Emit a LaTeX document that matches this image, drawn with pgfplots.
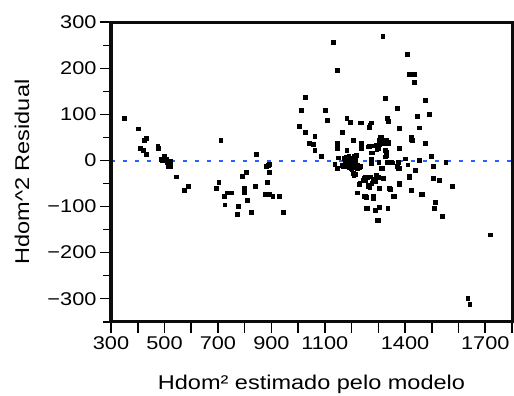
\documentclass[border=0pt]{standalone}
\usepackage{pgfplots}
\pgfplotsset{compat=1.18}
\usepackage{fontspec}
\setmainfont[FakeStretch=1.18]{Liberation Sans}
\definecolor{refblue}{RGB}{45,95,255}
\definecolor{frame}{RGB}{12,12,12}
\begin{document}
\begin{tikzpicture}
\path[use as bounding box] (-111bp,-74.3bp) rectangle (403bp,321.7bp);
\begin{axis}[
  at={(0,0)}, anchor=south west,
  scale only axis, width=401bp, height=299.4bp,
  xmin=300, xmax=1800, ymin=-350, ymax=300,
  axis lines=box,
  axis line style={line width=2.2bp, frame},
  tick style={line width=1.6bp, black},
  tick align=outside, tick pos=left,
  xtick={300,400,...,1800},
  xticklabels={300,,500,,700,,900,,1100,,,1400,,,1700,},
  ytick={-300,-200,...,300},
  yticklabels={\char"2212 300,\char"2212 200,\char"2212 100,0,100,200,300},
  minor ytick={-350,-250,...,250},
  major tick length=11bp, minor tick length=7.5bp,
  /pgf/number format/assume math mode=true,
  ticklabel style={font=\fontsize{18.5}{20}\selectfont},
  label style={font=\fontsize{20}{22}\selectfont},
  xlabel={Hdom² estimado pelo modelo},
  ylabel={Hdom\textasciicircum 2 Residual},
  ylabel style={at={(axis description cs:-0.222,0.5)}, anchor=center},
  xlabel style={at={(axis description cs:0.5,-0.208)}, anchor=center},
  clip=false,
]
\addplot[refblue, line width=2bp, dash pattern=on 4bp off 8bp] coordinates {(300,-2) (1800,-2)};
\addplot[only marks, mark=square*, mark size=1.9bp, black] coordinates {
(349,92) (401,69) (423,44) (431,48) (409,27) (419,22) (431,14) (475,32) (476,26) (488,2) (498,9) (506,4) (519,-6) (521,-1) (515,-12) (522,-12) (544,-35) (574,-64) (590,-56) (492,0) (500,5) (510,-4)
(710,44) (844,13) (891,-8) (882,-13) (887,-11) (891,-26) (807,-26) (792,-34) (883,-48) (703,-48) (695,-61) (799,-61) (799,-70) (838,-56) (733,-70) (749,-70) (739,-70) (724,-78) (876,-73) (892,-73) (905,-78) (928,-78) (808,-87) (725,-96) (777,-100) (823,-113) (771,-117) (943,-113)
(1003,75) (1011,109) (1025,138) (1025,62) (1041,38) (1056,35) (1062,53) (1062,22) (1085,9) (1100,109) (1110,88) (1131,257) (1145,196) (1137,-8) (1145,37) (1145,26) (1145,-16) (1150,6) (1166,61) (1166,-10) (1182,91) (1194,83) (1207,44) (1210,-14) (1207,-28) (1212,-30) (1216,12) (1223,-70) (1227,-14) (1230,-50) (1233,82) (1236,82) (1236,38) (1236,26) (1243,-43) (1249,-36) (1252,-78) (1256,-104) (1260,-54) (1262,-57) (1268,30) (1268,77) (1274,82) (1272,-6) (1274,17) (1274,3) (1280,-79) (1282,-83) (1287,-43) (1290,33) (1290,-108) (1293,-32) (1296,-130) (1299,-36) (1302,35) (1305,-101) (1308,50) (1310,-17) (1313,38) (1316,270) (1323,38) (1325,135) (1329,19) (1329,12) (1333,91) (1335,-104) (1337,37) (1338,86) (1340,-5) (1343,-63) (1353,-5) (1357,-78) (1370,113) (1372,-12) (1375,-17) (1376,26) (1378,70) (1378,-50) (1401,4) (1408,231) (1410,-9) (1416,188) (1435,188) (1416,-34) (1423,46) (1423,50) (1423,-65) (1433,170) (1439,-21) (1445,96) (1454,71) (1454,1) (1463,-73) (1475,131) (1475,38) (1491,100) (1498,9) (1506,-12) (1506,-39) (1508,-104) (1514,-90) (1529,-43) (1538,-121) (1552,-4) (1576,-56) (1634,-299) (1642,-312) (1717,-161)
(1172,5) (1176,-3) (1180,8) (1183,2) (1186,-6) (1189,10) (1192,-2) (1195,4) (1198,-10) (1201,6) (1204,-4) (1208,9) (1212,0) (1178,-12) (1190,-15) (1200,-20) (1215,-8) (1220,-16)
(1182,22) (1205,44) (1262,30) (1170,-13) (1197,-17) (1208,-32) (1220,-9) (1232,-13) (1245,-39) (1250,-43) (1260,-36) (1229,-52) (1220,-70) (1247,-78) (1260,-104)
(1266,73) (1310,51) (1304,44) (1316,42) (1329,44) (1339,40) (1427,44) (1266,32) (1285,32) (1298,27) (1294,25) (1326,22) (1329,13) (1326,8) (1379,26) (1276,17) (1273,1) (1301,-4) (1331,-3) (1348,-4) (1373,-4) (1310,-16) (1314,-17) (1379,-17) (1416,-36) (1505,-39) (1527,-43) (1270,-35) (1280,-40) (1290,-45) (1275,-50) (1268,-58) (1319,-39) (1379,-52) (1304,-61) (1341,-61) (1254,-79) (1281,-77) (1358,-78) (1424,-65) (1460,-74) (1289,-108) (1304,-101) (1298,-130)
};
\end{axis}
\draw[line width=3bp, frame] (0,0) rectangle (401bp,299.4bp);
\end{tikzpicture}
\end{document}
